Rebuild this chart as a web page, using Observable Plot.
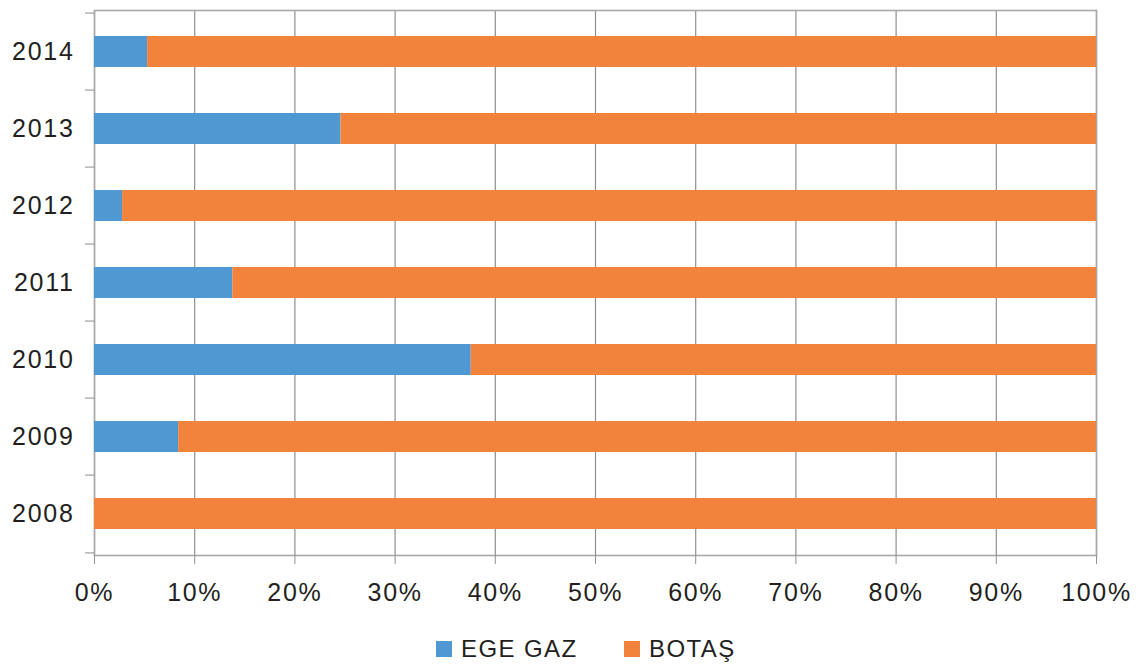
<!DOCTYPE html>
<html>
<head>
<meta charset="utf-8">
<script src="https://cdn.jsdelivr.net/npm/d3@7"></script>
<script src="https://cdn.jsdelivr.net/npm/@observablehq/plot@0.6"></script>
<style>
  html, body { margin: 0; padding: 0; background: #fff; }
  body { width: 1144px; height: 666px; overflow: hidden; font-family: "Liberation Sans", Arial, sans-serif; color: #231f20; }
  #legend { position: relative; height: 51px; }
  .item { position: absolute; top: 26px; display: flex; align-items: center; height: 16px; }
  .sw { width: 16px; height: 16px; margin-right: 9px; }
  .lab { font-size: 24px; line-height: 16px; letter-spacing: 1.4px; }
</style>
</head>
<body>
<div id="chart"></div>
<div id="legend"></div>
<script>
const years = ["2008", "2009", "2010", "2011", "2012", "2013", "2014"];
const egeGaz = [0, 8.4, 37.6, 13.8, 2.8, 24.6, 5.3];
const botas = [100, 91.6, 62.4, 86.2, 97.2, 75.4, 94.7];
const seriesNames = ["EGE GAZ", "BOTAŞ"];
const seriesColors = ["#5098d2", "#f1833c"];
const xTicks = [0, 10, 20, 30, 40, 50, 60, 70, 80, 90, 100];

const rows = [];
years.forEach((y, i) => {
  rows.push({year: y, series: seriesNames[0], value: egeGaz[i]});
  rows.push({year: y, series: seriesNames[1], value: botas[i]});
});

const W = 1144, H = 615, mt = 10, mb = 60, ml = 94, mr = 48;
const halfStep = (H - mt - mb) / years.length / 2;
const gridColor = "#8f8f8f";

const chart = Plot.plot({
  width: W,
  height: H,
  marginTop: mt,
  marginBottom: mb,
  marginLeft: ml,
  marginRight: mr,
  style: {fontFamily: "Liberation Sans, Arial, sans-serif", color: "#231f20", background: "#fff"},
  x: {domain: [0, 100], label: null},
  y: {domain: [...years].reverse(), paddingInner: 0.6, paddingOuter: 0.3, label: null},
  color: {domain: seriesNames, range: seriesColors},
  marks: [
    Plot.gridX(xTicks, {stroke: gridColor, strokeOpacity: 1, strokeWidth: 1.2}),
    Plot.frame({stroke: "#a8a8a8", strokeWidth: 1.6}),
    Plot.barX(rows, Plot.stackX({x: "value", y: "year", fill: "series", order: seriesNames})),
    Plot.axisX(xTicks, {tickSize: 9, tickPadding: 19, stroke: gridColor, tickFormat: d => d + "%", fill: "#231f20", fontSize: 25, label: null}),
    Plot.axisY({tickSize: 0, tickPadding: 20, fill: "#231f20", fontSize: 25, label: null}),
    Plot.axisY(years, {tickSize: 9, text: null, dy: -halfStep, stroke: gridColor, label: null}),
    Plot.axisY([years[0]], {tickSize: 9, text: null, dy: halfStep, stroke: gridColor, label: null})
  ]
});
chart.querySelectorAll("text").forEach(t => t.setAttribute("letter-spacing", "1.7px"));
document.getElementById("chart").appendChild(chart);

const legend = document.getElementById("legend");
const lefts = [436, 624];
seriesNames.forEach((name, i) => {
  const item = document.createElement("div");
  item.className = "item";
  item.style.left = lefts[i] + "px";
  const sw = document.createElement("div");
  sw.className = "sw";
  sw.style.background = seriesColors[i];
  const lab = document.createElement("span");
  lab.className = "lab";
  lab.textContent = name;
  item.appendChild(sw);
  item.appendChild(lab);
  legend.appendChild(item);
});
</script>
</body>
</html>
